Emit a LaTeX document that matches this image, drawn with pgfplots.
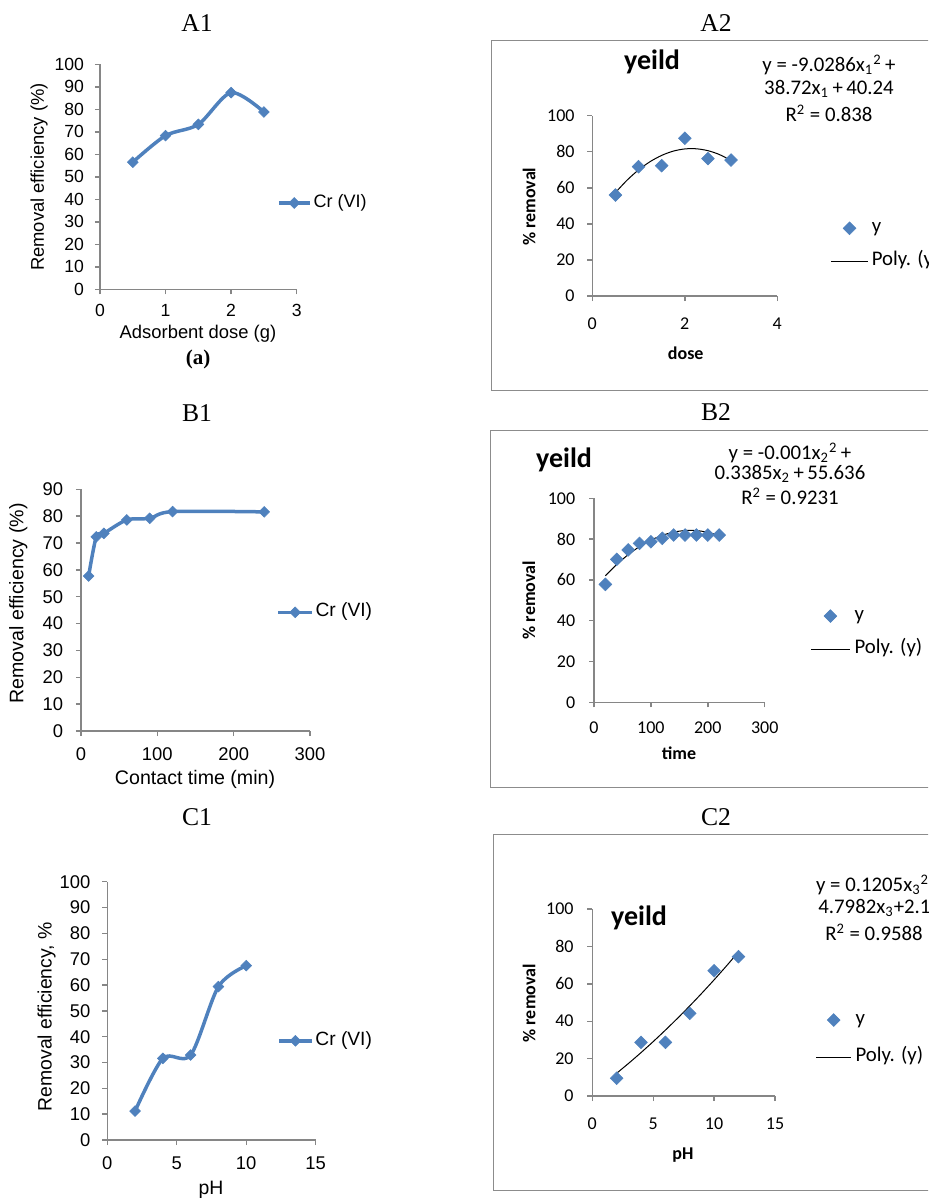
\documentclass[border=0pt]{standalone}
\usepackage{fontspec}
\setmainfont{Liberation Sans}
\newfontfamily\carl{Carlito}
\newfontfamily\tnr{Liberation Serif}
\usepackage{pgfplots}
\pgfplotsset{compat=1.18}
\definecolor{xlblue}{RGB}{79,129,189}
\definecolor{axgray}{RGB}{134,134,134}
\definecolor{framegray}{RGB}{140,140,140}

\pgfplotsset{
  base/.style={
    scale only axis, anchor=south west,
    axis lines=left, axis line style={axgray, line width=0.7pt, -},
    tick style={axgray, line width=0.7pt},
    tick align=outside, major tick length=2.5pt,
    /pgf/number format/assume math mode=true,
    xticklabel style={inner sep=0pt, anchor=north},
    yticklabel style={inner sep=0pt, anchor=east},
    clip=false,
    legend cell align=left,
  },
  leftp/.style={
    base,
    tick label style={font=\fontsize{8.8}{10}\selectfont},
    label style={font=\fontsize{9.2}{11}\selectfont, inner sep=0pt, anchor=center},
    legend style={draw=none, fill=none, inner sep=0pt, outer sep=0pt, anchor=west,
      font=\fontsize{9}{11}\selectfont,
      nodes={inner sep=0pt, text height=6pt, text depth=1.8pt}, column sep=1pt},
  },
  rightp/.style={
    base,
    tick label style={font=\carl\fontsize{9}{10}\selectfont},
    label style={font=\carl\bfseries\fontsize{9}{11}\selectfont, inner sep=0pt, anchor=center},
    legend style={draw=none, fill=none, inner sep=0pt, outer sep=0pt, anchor=west,
      font=\carl\fontsize{10.4}{12}\selectfont,
      nodes={inner sep=0pt, text height=6pt, text depth=2pt}},
  },
  lineplot/.style={xlblue, line width=1.75pt, smooth, mark=square*,
    mark size=1.9pt, mark options={rotate=45, line width=0.3pt, fill=xlblue, draw=xlblue}},
  scat/.style={only marks, mark=square*, mark size=2.25pt,
    mark options={rotate=45, line width=0.3pt, fill=xlblue, draw=xlblue}},
  scatleg/.style 2 args={legend image code/.code={\path[draw=none, fill=none] (0pt,-0.1pt) rectangle (#1,0.1pt);\draw[##1] plot coordinates {(#2,0pt)};}},
  trendleg/.style={legend image code/.code={\draw[##1] (0pt,0pt) -- (#1,0pt);}},
  trend/.style={black, line width=0.5pt, smooth, no marks},
}

\begin{document}
\begin{tikzpicture}
\path[use as bounding box] (0,0) rectangle (464pt,-600pt);
\clip (0,0) rectangle (464pt,-600pt);

% ---------- A1 ----------
\begin{axis}[leftp, at={(50pt,-144.65pt)}, width=98.35pt, height=112.5pt,
  xmin=0, xmax=3, ymin=0, ymax=100,
  xtick={0,1,2,3}, ytick={0,10,...,100},
  xticklabel shift=4.7pt, yticklabel shift=5.3pt,
  xlabel={Adsorbent dose (g)}, ylabel={Removal efficiency (\%)},
  xlabel style={at={(axis description cs:0.498,-0.199)}},
  ylabel style={at={(axis description cs:-0.310,0.499)}},
  legend style={at={(axis description cs:0.90,0.3836)}},
  legend image code/.code={\draw[mark repeat=2,mark phase=2,#1] plot coordinates {(0pt,0pt) (7.75pt,0pt) (15.5pt,0pt)};},
]
\addplot[lineplot] coordinates {(0.5,56.5)(1,68.3)(1.5,73.3)(2,87.4)(2.5,78.8)};
\addlegendentry{Cr (VI)}
\end{axis}

% ---------- B1 ----------
\begin{axis}[leftp, at={(40.5pt,-365.5pt)}, width=114.5pt, height=120.85pt,
  xmin=0, xmax=300, ymin=0, ymax=90,
  xtick={0,100,200,300}, ytick={0,10,...,90},
  tick label style={font=\fontsize{9.2}{10}\selectfont},
  label style={font=\fontsize{9.8}{11}\selectfont},
  xticklabel shift=5.4pt, yticklabel shift=6.3pt,
  xlabel={Contact time (min)}, ylabel={Removal efficiency (\%)},
  xlabel style={at={(axis description cs:0.498,-0.200)}},
  ylabel style={at={(axis description cs:-0.274,0.528)}},
  legend style={at={(axis description cs:0.8546,0.491)}, font=\fontsize{9.6}{11}\selectfont},
  legend image code/.code={\draw[mark repeat=2,mark phase=2,#1] plot coordinates {(0pt,0pt) (8.35pt,0pt) (16.7pt,0pt)};},
]
\addplot[lineplot] coordinates {(10,57.7)(20,72.3)(30,73.6)(60,78.6)(90,79.2)(120,81.7)(240,81.6)};
\addlegendentry{Cr (VI)}
\end{axis}

% ---------- C1 ----------
\begin{axis}[leftp, at={(53.65pt,-570pt)}, width=104.2pt, height=129.15pt,
  xmin=0, xmax=15, ymin=0, ymax=100,
  xtick={0,5,10,15}, ytick={0,10,...,100},
  tick label style={font=\fontsize{9.2}{10}\selectfont},
  label style={font=\fontsize{9.7}{11}\selectfont},
  xticklabel shift=5.5pt, yticklabel shift=5.8pt,
  xlabel={pH}, ylabel={Removal efficiency, \%},
  xlabel style={at={(axis description cs:0.498,-0.194)}},
  ylabel style={at={(axis description cs:-0.291,0.477)}},
  legend style={at={(axis description cs:0.816,0.384)}, font=\fontsize{9.6}{11}\selectfont},
  legend image code/.code={\draw[mark repeat=2,mark phase=2,#1] plot coordinates {(0pt,0pt) (8.15pt,0pt) (16.3pt,0pt)};},
]
\addplot[lineplot] coordinates {(2,11.2)(4,31.6)(6,32.9)(8,59.4)(10,67.5)};
\addlegendentry{Cr (VI)}
\end{axis}

% ---------- A2 ----------
\begin{axis}[rightp, at={(296.15pt,-148pt)}, width=92.5pt, height=90.15pt,
  xmin=0, xmax=4, ymin=0, ymax=100,
  xtick={0,2,4}, ytick={0,20,...,100},
  xticklabel shift=8.35pt, yticklabel shift=6.2pt,
  xlabel={dose}, ylabel={\% removal},
  xlabel style={at={(axis description cs:0.505,-0.318)}},
  ylabel style={at={(axis description cs:-0.342,0.495)}},
  legend style={at={(axis description cs:1.289,0.283)}, row sep=8.7pt, column sep=1.7pt},
]
\addplot[scat, scatleg={18.3pt}{9.15pt}] coordinates {(0.5,56)(1,71.7)(1.5,72.3)(2,87.5)(2.5,76.2)(3,75.4)};
\addlegendentry{y}
\addplot[trend, trendleg={18.3pt}] coordinates {(0.5,57.34)(0.75,64.20)(1,69.93)(1.25,74.53)(1.5,77.99)(1.75,80.35)(2,81.57)(2.25,81.65)(2.5,80.61)(2.75,78.44)(3,75.14)};
\addlegendentry{Poly. (y)}
\end{axis}

% ---------- B2 ----------
\begin{axis}[rightp, at={(297pt,-351.15pt)}, width=85.35pt, height=102pt,
  xmin=0, xmax=300, ymin=0, ymax=100,
  xtick={0,100,200,300}, ytick={0,20,...,100},
  xticklabel shift=6.85pt, yticklabel shift=6.7pt,
  xlabel={time}, ylabel={\% removal},
  xlabel style={at={(axis description cs:0.498,-0.25)}},
  ylabel style={at={(axis description cs:-0.381,0.501)}},
  legend style={at={(axis description cs:1.2695,0.341)}, row sep=8.65pt, column sep=2.25pt},
]
\addplot[scat, scatleg={19.2pt}{9.6pt}] coordinates {(20,57.8)(40,70.1)(60,74.7)(80,77.9)(100,78.7)(120,80.4)(140,82)(160,82)(180,82)(200,82)(220,82)};
\addlegendentry{y}
\addplot[trend, trendleg={19.2pt}] coordinates {(20,62.01)(40,67.58)(60,72.35)(80,76.32)(100,79.49)(120,81.86)(140,83.43)(160,84.20)(180,84.17)(200,83.34)(220,81.71)};
\addlegendentry{Poly. (y)}
\end{axis}

% ---------- C2 ----------
\begin{axis}[rightp, at={(296.15pt,-548pt)}, width=91.35pt, height=93.5pt,
  xmin=0, xmax=15, ymin=0, ymax=100,
  xtick={0,5,10,15}, ytick={0,20,...,100},
  xticklabel shift=8.35pt, yticklabel shift=6.7pt,
  xlabel={pH}, ylabel={\% removal},
  xlabel style={at={(axis description cs:0.496,-0.316)}},
  ylabel style={at={(axis description cs:-0.346,0.496)}},
  legend style={at={(axis description cs:1.2228,0.3067)}, row sep=10.65pt, column sep=1.9pt},
]
\addplot[scat, scatleg={17.5pt}{8.75pt}] coordinates {(2,9.5)(4,28.7)(6,28.7)(8,44.2)(10,67)(12,74.5)};
\addlegendentry{y}
\addplot[trend, trendleg={17.5pt}] coordinates {(2,12.18)(3,17.58)(4,23.22)(5,29.10)(6,35.23)(7,41.59)(8,48.20)(9,55.04)(10,62.13)(11,69.46)(12,77.03)};
\addlegendentry{Poly. (y)}
\end{axis}

% ---------- texts and frames ----------
\begin{scope}[x=0.5pt, y=-0.5pt]
\draw[framegray, line width=0.75pt] (940,40.7) -- (491.3,40.7) -- (491.3,390.7) -- (940,390.7);
\draw[framegray, line width=0.75pt] (940,430.7) -- (490.7,430.7) -- (490.7,787.3) -- (940,787.3);
\draw[framegray, line width=0.75pt] (940,834.3) -- (493.3,834.3) -- (493.3,1190.7) -- (940,1190.7);

\node[font=\tnr\fontsize{12.8}{14}\selectfont] at (197,23) {A1};
\node[font=\tnr\fontsize{12.8}{14}\selectfont] at (716,23) {A2};
\node[font=\tnr\fontsize{12.8}{14}\selectfont] at (197,413) {B1};
\node[font=\tnr\fontsize{12.8}{14}\selectfont] at (716,412) {B2};
\node[font=\tnr\fontsize{12.8}{14}\selectfont] at (197,817) {C1};
\node[font=\tnr\fontsize{12.8}{14}\selectfont] at (716,817) {C2};
\node[font=\tnr\bfseries\fontsize{10.5}{12}\selectfont] at (198,359) {(a)};

\node[font=\carl\bfseries\fontsize{14}{16}\selectfont] at (652,62) {yeild};
\node[font=\carl\bfseries\fontsize{14}{16}\selectfont] at (564,460) {yeild};
\node[font=\carl\bfseries\fontsize{14}{16}\selectfont] at (639,918) {yeild};

\begin{scope}[every node/.style={font=\carl\fontsize{10.4}{12}\selectfont, inner sep=0pt}]
\node at (829,65) {y = -9.0286x\textsubscript{1}\textsuperscript{2}\,+};
\node at (829,89) {38.72x\textsubscript{1}\,+\,40.24};
\node at (829,113) {R\textsuperscript{2} = 0.838};
\node at (790,453) {y = -0.001x\textsubscript{2}\textsuperscript{2}\,+};
\node at (790,474) {0.3385x\textsubscript{2}\,+\,55.636};
\node at (790,496) {R\textsuperscript{2} = 0.9231};
\node[anchor=west] at (815.7,885) {y = 0.1205x\textsubscript{3}\textsuperscript{2}+};
\node[anchor=west] at (818,908.3) {4.7982x\textsubscript{3}+2.1};
\node at (874,932.7) {R\textsuperscript{2} = 0.9588};
\end{scope}
\end{scope}
\end{tikzpicture}
\end{document}
